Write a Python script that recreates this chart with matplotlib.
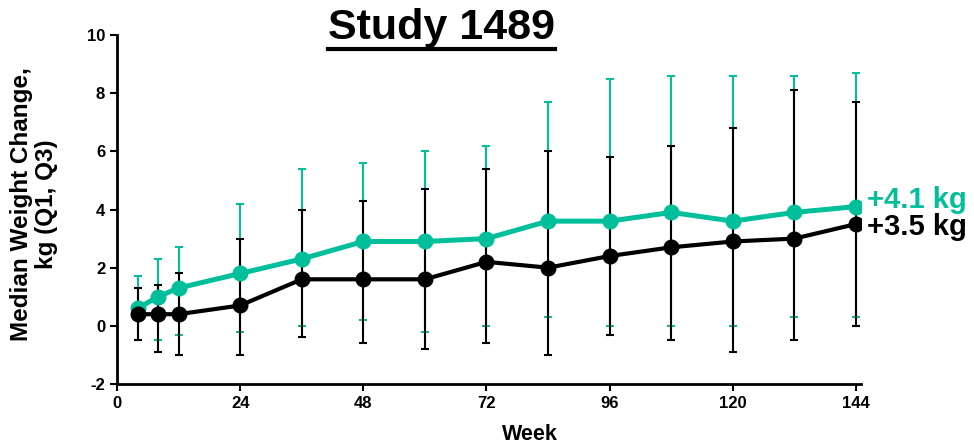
import matplotlib.pyplot as plt

plt.rcParams['font.family'] = ['Liberation Sans', 'DejaVu Sans']
plt.rcParams['font.weight'] = 'bold'
plt.rcParams['axes.unicode_minus'] = False

weeks = [4, 8, 12, 24, 36, 48, 60, 72, 84, 96, 108, 120, 132, 144]

# teal group (median, Q1, Q3)
teal_med = [0.6, 1.0, 1.3, 1.8, 2.3, 2.9, 2.9, 3.0, 3.6, 3.6, 3.9, 3.6, 3.9, 4.1]
teal_q1 = [-0.5, -0.5, -0.3, -0.2, 0.0, 0.2, -0.2, 0.0, 0.3, 0.0, 0.0, 0.0, 0.3, 0.3]
teal_q3 = [1.7, 2.3, 2.7, 4.2, 5.4, 5.6, 6.0, 6.2, 7.7, 8.5, 8.6, 8.6, 8.6, 8.7]

# black group (median, Q1, Q3)
black_med = [0.4, 0.4, 0.4, 0.7, 1.6, 1.6, 1.6, 2.2, 2.0, 2.4, 2.7, 2.9, 3.0, 3.5]
black_q1 = [-0.5, -0.9, -1.0, -1.0, -0.4, -0.6, -0.8, -0.6, -1.0, -0.3, -0.5, -0.9, -0.5, 0.0]
black_q3 = [1.3, 1.4, 1.8, 3.0, 4.0, 4.3, 4.7, 5.4, 6.0, 5.8, 6.2, 6.8, 8.1, 7.7]

teal_label = "+4.1 kg"
black_label = "+3.5 kg"

TEAL = "#00BF9A"

fig = plt.figure(figsize=(9.74, 4.46), dpi=100)
ax = fig.add_axes([0.1201, 0.139, 0.764, 0.7825])

def err(med, q1, q3):
    return [[m - a for m, a in zip(med, q1)], [b - m for m, b in zip(med, q3)]]

ax.errorbar(weeks, teal_med, yerr=err(teal_med, teal_q1, teal_q3), fmt='none',
            ecolor=TEAL, elinewidth=1.5, capsize=3, capthick=1.5, zorder=2)
ax.errorbar(weeks, black_med, yerr=err(black_med, black_q1, black_q3), fmt='none',
            ecolor='black', elinewidth=1.5, capsize=3, capthick=1.5, zorder=3)
ax.plot(weeks, teal_med, color=TEAL, lw=3.6, marker='o', ms=10.5, zorder=4)
ax.plot(weeks, black_med, color='black', lw=3.0, marker='o', ms=10.5, zorder=5)

# end-of-line labels
ax.annotate(teal_label, (weeks[-1], teal_med[-1]), xytext=(8, -1), textcoords='offset points',
            color=TEAL, fontsize=21, fontweight='bold', va='baseline', ha='left',
            annotation_clip=False)
ax.annotate(black_label, (weeks[-1], black_med[-1]), xytext=(8, -8), textcoords='offset points',
            color='black', fontsize=21, fontweight='bold', va='baseline', ha='left',
            annotation_clip=False)

ax.set_xlim(0, 145)
ax.set_ylim(-2, 10)
ax.set_xticks(range(0, 145, 24))
ax.set_yticks(range(-2, 11, 2))
ax.tick_params(labelsize=12, width=1.5, length=5, direction='out')
for lab in ax.get_xticklabels() + ax.get_yticklabels():
    lab.set_fontweight('bold')

for s in ['top', 'right']:
    ax.spines[s].set_visible(False)
for s in ['left', 'bottom']:
    ax.spines[s].set_linewidth(2)

ax.set_xlabel("Week", fontsize=15.5, fontweight='bold')
ax.xaxis.label.set_va('baseline')
ax.xaxis.set_label_coords(0.555, -0.16)
ax.set_ylabel("Median Weight Change,\nkg (Q1, Q3)", fontsize=17.5, fontweight='bold',
              linespacing=1.1)
ax.yaxis.set_label_coords(-0.079, 0.515)

t = fig.text(0.453, 0.9126, "Study 1489", fontsize=31, fontweight='bold', ha='center', va='baseline')
fig.canvas.draw()
bb = t.get_window_extent()
fig.add_artist(plt.Line2D([bb.x0 / fig.bbox.width, bb.x1 / fig.bbox.width],
                          [(446 - 49) / 446] * 2, color='black', lw=3,
                          transform=fig.transFigure))

fig.savefig("out.png", dpi=100)
